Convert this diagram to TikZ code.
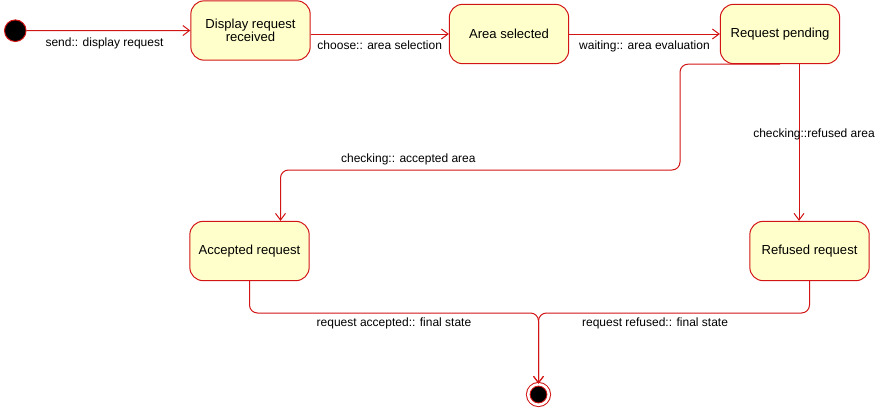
\documentclass[tikz,border=0pt]{standalone}
\usepackage{fontspec}
\setmainfont{Liberation Sans}
\usetikzlibrary{arrows.meta,calc}
\definecolor{statered}{RGB}{210,20,20}
\definecolor{stateyellow}{RGB}{255,255,204}
\tikzstyle{state}=[rectangle,rounded corners=10pt,fill=stateyellow,draw=statered,line width=0.75pt,minimum width=89.5pt,minimum height=44.5pt,inner sep=2pt,align=center,font=\fontsize{9.8}{10.2}\selectfont]
\tikzstyle{initial}=[circle,fill=black,draw=statered,line width=0.75pt,minimum size=16.2pt,inner sep=0pt]
\tikzstyle{final}=[circle,fill=black,draw=statered,line width=0.75pt,double=white,double distance=1.9pt,minimum size=15.4pt,inner sep=0pt]
\tikzstyle{edge} = [draw,statered,line width=0.75pt,-{Straight Barb[length=5pt,width=7.5pt]}]
\tikzstyle{weight} = [font=\fontsize{9}{10}\selectfont,text=black]

\begin{document}
\begin{tikzpicture}[x=0.75pt,y=-0.75pt]
    \useasboundingbox (0,0) rectangle (875,411);

    \foreach \pos/ \name/ \txt in {{(250.5,30.5)/disp/{Display request\\received}}, {(509,34)/area/{Area selected}}, {(780,34)/pending/{Request pending}}, {(249.5,251)/accepted/{Accepted request}}, {(809.5,251)/refused/{Refused request}}}
        \node[state] (\name) at \pos {\txt};

    \node[initial] (init) at (15.3,30.7) {};
    \node[final] (final) at (538.5,394.5) {};

    % Connect states with transitions and draw their labels
    \path[edge] (init) -- node[weight,below=1.5pt,xshift=-3pt] {send:: display request} (disp);
    \path[edge] (disp.east |- area) -- node[weight,below=1.5pt] {choose:: area selection} (area);
    \path[edge] (area) -- node[weight,below=1.5pt] {waiting:: area evaluation} (pending);

    \coordinate (split) at (680,170);
    \coordinate (accin) at ($(accepted.north)+(31,0)$);
    \path[edge,rounded corners=6pt] (pending.south) -| (split) -- node[weight,above,pos=0.68] {checking:: accepted area} (accin |- split) -- (accin);

    \coordinate (refout) at ($(pending.south)+(19,0)$);
    \coordinate (refin) at ($(refused.north)+(-10.5,0)$);
    \path[edge] (refout) -- node[weight,pos=0.45,xshift=11.25pt] {checking::refused area} (refin);

    \coordinate (join) at (538.5,313);
    \path[edge,rounded corners=6pt] (accepted.south) |- node[weight,below,pos=0.75] {request accepted:: final state} (join) -- (final);
    \path[edge,rounded corners=6pt] (refused.south) |- node[weight,below,pos=0.785] {request refused:: final state} (join) -- (final);

\end{tikzpicture}
\end{document}
